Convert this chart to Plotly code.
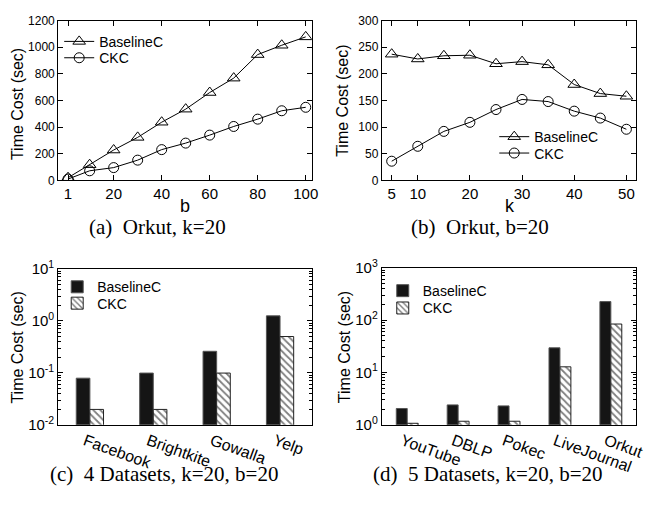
import plotly.graph_objects as go

W, H = 667, 505

# ---- data ----
b_vals = [1, 10, 20, 30, 40, 50, 60, 70, 80, 90, 100]
a_baseline = [20, 118, 228, 323, 437, 535, 660, 768, 945, 1015, 1078]
a_ckc = [10, 72, 96, 152, 231, 280, 340, 405, 460, 523, 549]

k_vals = [5, 10, 15, 20, 25, 30, 35, 40, 45, 50]
b_baseline = [237, 228, 234, 235, 219, 223, 217, 180, 163, 158]
b_ckc = [36, 64, 92, 109, 133, 152, 148, 130, 117, 96]

c_cats = ["Facebook", "Brightkite", "Gowalla", "Yelp"]
c_baseline = [0.079, 0.099, 0.26, 1.25]
c_ckc = [0.0198, 0.0198, 0.099, 0.5]

d_cats = ["YouTube", "DBLP", "Pokec", "LiveJournal", "Orkut"]
d_baseline = [2.05, 2.4, 2.3, 29.5, 225]
d_ckc = [1.07, 1.17, 1.17, 12.8, 84]

a_xticks = [1, 20, 40, 60, 80, 100]
a_yticks = [0, 200, 400, 600, 800, 1000, 1200]
b_xticks = [5, 10, 20, 30, 40, 50]
b_yticks = [0, 50, 100, 150, 200, 250, 300]
c_yticks = [0.01, 0.1, 1, 10]
c_yticktext = ["10<sup>-2</sup>", "10<sup>-1</sup>", "10<sup>0</sup>", "10<sup>1</sup>"]
d_yticks = [1, 10, 100, 1000]
d_yticktext = ["10<sup>0</sup>", "10<sup>1</sup>", "10<sup>2</sup>", "10<sup>3</sup>"]

captions = ["(a)\u00a0\u00a0Orkut, k=20", "(b)\u00a0\u00a0Orkut, b=20",
            "(c)\u00a0\u00a04 Datasets, k=20, b=20", "(d)\u00a0\u00a05 Datasets, k=20, b=20"]

SANS = "Liberation Sans, Arial, sans-serif"
SERIF = "Liberation Serif, Times New Roman, serif"

def px_x(p):
    return p / W

def px_y(p):
    return 1 - p / H

fig = go.Figure()

line_style = dict(color="black", width=1)
tri = dict(symbol="triangle-up-open", size=11, color="black", line=dict(width=1, color="black"))
circ = dict(symbol="circle-open", size=10, color="black", line=dict(width=1, color="black"))

fig.add_trace(go.Scatter(x=b_vals, y=a_baseline, mode="lines+markers", name="BaselineC",
                         line=line_style, marker=tri, xaxis="x", yaxis="y", legend="legend"))
fig.add_trace(go.Scatter(x=b_vals, y=a_ckc, mode="lines+markers", name="CKC",
                         line=line_style, marker=circ, xaxis="x", yaxis="y", legend="legend2"))
fig.add_trace(go.Scatter(x=k_vals, y=b_baseline, mode="lines+markers", name="BaselineC",
                         line=line_style, marker=tri, xaxis="x2", yaxis="y2", legend="legend3"))
fig.add_trace(go.Scatter(x=k_vals, y=b_ckc, mode="lines+markers", name="CKC",
                         line=line_style, marker=circ, xaxis="x2", yaxis="y2", legend="legend4"))

solid_bar = dict(color="#151515", line=dict(color="#555555", width=1))
hatch_bar = dict(color="white", line=dict(color="#222222", width=1),
                 pattern=dict(shape="\\", fgcolor="black", bgcolor="white", size=5, solidity=0.35))

fig.add_trace(go.Bar(x=c_cats, y=c_baseline, name="BaselineC", marker=solid_bar,
                     xaxis="x3", yaxis="y3", legend="legend5"))
fig.add_trace(go.Bar(x=c_cats, y=c_ckc, name="CKC", marker=hatch_bar,
                     xaxis="x3", yaxis="y3", legend="legend6"))
fig.add_trace(go.Bar(x=d_cats, y=d_baseline, name="BaselineC", marker=solid_bar,
                     xaxis="x4", yaxis="y4", legend="legend7"))
fig.add_trace(go.Bar(x=d_cats, y=d_ckc, name="CKC", marker=hatch_bar,
                     xaxis="x4", yaxis="y4", legend="legend8"))

axis_common = dict(showline=True, linecolor="black", linewidth=1, mirror="ticks",
                   ticks="inside", ticklen=5, tickcolor="black", showgrid=False,
                   zeroline=False)

dom_top = [px_y(176), px_y(10)]
dom_bot = [px_y(430), px_y(268)]
dx_left = [px_x(59), px_x(316)]
dx_right = [px_x(387), px_x(645)]

fig.update_layout(
    width=W, height=H, margin=dict(l=0, r=0, t=0, b=0),
    paper_bgcolor="white", plot_bgcolor="white", showlegend=True,
    font=dict(family=SANS, color="black", size=14),
    barmode="group", bargap=0.57, bargroupgap=0,
    xaxis=dict(axis_common, domain=dx_left, anchor="y", range=[-3.1, 102.5],
               tickvals=a_xticks, tickfont=dict(size=15)),
    yaxis=dict(axis_common, domain=dom_top, anchor="x", range=[0, 1200],
               tickvals=a_yticks, tickfont=dict(size=12)),
    xaxis2=dict(axis_common, domain=dx_right, anchor="y2", range=[3.1, 51.9],
                tickvals=b_xticks, tickfont=dict(size=15)),
    yaxis2=dict(axis_common, domain=dom_top, anchor="x2", range=[0, 300],
                tickvals=b_yticks, tickfont=dict(size=12)),
    xaxis3=dict(axis_common, domain=dx_left, anchor="y3", range=[-0.5, 3.5],
                ticks="", tickangle=20, tickfont=dict(size=16), ticklabelshift=-5),
    yaxis3=dict(axis_common, domain=dom_bot, anchor="x3", type="log", range=[-2, 1],
                tickvals=c_yticks, ticktext=c_yticktext, tickfont=dict(size=15),
                minor=dict(ticks="inside", ticklen=3, tickcolor="black",
                           tickvals=[0.02, 0.03, 0.04, 0.05, 0.06, 0.07, 0.08, 0.09,
                                     0.2, 0.3, 0.4, 0.5, 0.6, 0.7, 0.8, 0.9,
                                     2, 3, 4, 5, 6, 7, 8, 9])),
    xaxis4=dict(axis_common, domain=dx_right, anchor="y4", range=[-0.5, 4.5],
                ticks="", tickangle=20, tickfont=dict(size=16), ticklabelshift=-5),
    yaxis4=dict(axis_common, domain=[px_y(430), px_y(266.7)], anchor="x4", type="log",
                range=[0, 3], tickvals=d_yticks, ticktext=d_yticktext, tickfont=dict(size=15),
                minor=dict(ticks="inside", ticklen=3, tickcolor="black",
                           tickvals=[2, 3, 4, 5, 6, 7, 8, 9,
                                     20, 30, 40, 50, 60, 70, 80, 90,
                                     200, 300, 400, 500, 600, 700, 800, 900])),
)

leg_common = dict(bgcolor="rgba(0,0,0,0)", font=dict(size=14, family=SANS),
                  xanchor="left", yanchor="middle", tracegroupgap=0, itemwidth=30,
                  borderwidth=0, visible=True)
# (text start x, text centre y) for each legend entry
leg_pos = [(102, 32), (102, 49), (543, 131), (543, 148),
           (100, 287), (100, 304), (430, 291), (430, 309)]
leg_layout = {}
for i, (lx, ly) in enumerate(leg_pos):
    key = "legend" if i == 0 else "legend%d" % (i + 1)
    leg_layout[key] = dict(leg_common, x=px_x(lx - 42), y=px_y(ly))
fig.update_layout(**leg_layout)

annots = []
# y-axis titles
for xc, yc in [(18, 97), (347, 93), (18, 350), (350, 349)]:
    annots.append(dict(text="Time Cost (sec)", x=px_x(xc), y=px_y(yc), xref="paper", yref="paper",
                       showarrow=False, textangle=-90, font=dict(size=16, family=SANS),
                       xanchor="center", yanchor="middle"))
# x-axis titles
annots.append(dict(text="b", x=px_x(188), y=px_y(203), xref="paper", yref="paper", showarrow=False,
                   font=dict(size=18, family=SANS), xanchor="center", yanchor="middle"))
annots.append(dict(text="k", x=px_x(517), y=px_y(203), xref="paper", yref="paper", showarrow=False,
                   font=dict(size=18, family=SANS), xanchor="center", yanchor="middle"))
# captions
for txt, xc, yc in zip(captions, [160, 487, 166, 495], [224, 224, 481, 481]):
    annots.append(dict(text=txt, x=px_x(xc), y=px_y(yc), xref="paper", yref="paper", showarrow=False,
                       font=dict(size=21, family=SERIF), xanchor="center", yanchor="middle"))
fig.update_layout(annotations=annots)

fig.write_html("out.html", config={"displayModeBar": False},
               post_script="document.body.style.margin='0';document.body.style.overflow='hidden';")
